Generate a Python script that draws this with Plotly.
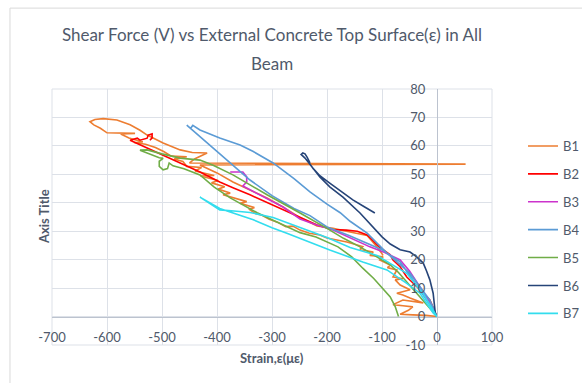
import plotly.graph_objects as go

# ---------------- data ----------------
series_names = ["B1", "B2", "B3", "B4", "B5", "B6", "B7"]

B1_x = [0, -20, -44, -67, -52, -44, -62, -80, -62, -25, -49, -62, -73, -49, -67, -76, -62, -80, -73, -90,
        -85, -104, -98, -122, -116, -140, -135, -164, -182, -200, -213, -232, -249, -262, -275, -290, -305,
        -318, -330, -342, -332, -358, -346, -371, -389, -376, -398, -386, -410, -398, -430, -405, -440, -428,
        -455, -462, -478, -455, -483, -497, -512, -530, -551, -535, -560, -575, -549, -600, -612, -624, -631,
        -622, -607, -582, -558, -540, -527, -498, -467, -445, -418, -440, -450, 52, -431,
        -400, -371, -340, -309, -280, -249, -218, -189, -158, -127, -109, -98]
B1_y = [0, 0.4, 0.6, 0.8, 2.2, 3.4, 3.8, 4.2, 5.8, 4.8, 6.5, 7.6, 8.2, 9.4, 11.1, 12.9, 13.3, 13.9, 16.4, 17.2,
        18.1, 19.9, 21, 21.5, 22.7, 23.6, 24.6, 26.2, 26.9, 27.6, 28.7, 29.3, 30.4, 31.8, 31.6, 33.2, 34.2,
        35.6, 36.2, 37.8, 38.3, 39.8, 40.4, 41.8, 42.8, 43.4, 44.8, 45.6, 47, 47.8, 49.4, 49.6, 51.2, 52.4,
        52.8, 54.5, 55.4, 56.2, 56.4, 58, 59.4, 60.6, 61.2, 61.4, 62.8, 64.2, 64.4, 64.6, 66.2, 67.4, 68.5,
        69.3, 69.6, 69.1, 67.4, 65.5, 63.8, 61, 58.6, 57.7, 57.5, 55.5, 54, 53.6, 53.3,
        50.5, 47.3, 44.5, 41.7, 38.5, 34.8, 31.8, 31, 29.7, 28.5, 24.5, 21.5]

B2_x = [0, -13, -36, -49, -55, -67, -80, -85, -104, -127, -145, -165, -189, -218, -250, -280, -310, -340,
        -370, -395, -431, -467, -500, -527, -558, -545, -540, -527, -525, -518, -518, -522]
B2_y = [0, 5.8, 10.4, 12.9, 13.9, 17.5, 19.9, 21.7, 24.3, 28.7, 30, 30.4, 30.6, 32.2, 35, 37.5, 40.2, 42.8,
        45.2, 47.3, 50.8, 54, 57, 59.3, 62, 62.7, 62, 62.7, 63.8, 64.2, 62.8, 62]

B3_x = [0, -10, -31, -50, -67, -95, -122, -155, -189, -220, -249, -280, -320, -353, -346, -346, -353, -376]
B3_y = [0, 4, 10.4, 16, 19.9, 22.5, 24.5, 27.5, 30.4, 32.3, 34.3, 38.5, 42.5, 45.9, 47.3, 49.1, 50.8, 50.8]

B4_x = [0, -7, -30, -67, -100, -127, -160, -200, -231, -260, -300, -340, -376, -405, -431, -455, -448, -444,
        -431, -395, -358, -334, -298, -260, -231, -200, -176, -158, -127, -91, -49, -13, 0]
B4_y = [0, 2.3, 9, 19.2, 23.5, 25.8, 28.5, 31.5, 35.5, 38, 42.5, 48, 54, 59, 63.2, 67.3, 66.2, 67.2,
        65.6, 62.8, 60.3, 58, 54, 48.5, 43.8, 39.5, 36.5, 33.5, 29.3, 22.3, 15.2, 5.8, 0]

B5_x = [0, -20, -45, -70, -85, -110, -140, -170, -200, -249, -309, -371, -407, -431, -467, -500, -527, -540,
        -520, -505, -498, -505, -505, -498, -490, -487, -480, -460, -431, -405, -376, -327, -300, -273, -249,
        -220, -180, -155, -135, -115, -100, -85, -76, -70]
B5_y = [0, 4.5, 10, 15.5, 18.2, 21, 24.5, 27.5, 31, 36.4, 42.8, 49.8, 53.2, 55, 55.7, 57.2, 58.6, 58.5,
        57, 55.8, 55.6, 54.6, 52.8, 51.6, 52, 54, 53, 52, 49.8, 45.5, 41.7, 36.5, 34, 31.5, 29.5,
        28, 24.5, 21, 17, 13.4, 10, 6.9, 3.5, 0]

B6_x = [0, -3, -7, -13, -19, -25, -37, -49, -67, -85, -100, -116, -140, -171, -195, -213, -227, -240, -247,
        -244, -240, -236, -231, -236, -225, -213, -195, -175, -153, -133, -113]
B6_y = [0, 1, 8.2, 12.9, 16, 18.8, 21, 22.7, 23.5, 25.5, 28, 31.5, 36.4, 42, 45.6, 49.1, 52.6, 55.7, 57,
        57.5, 57.2, 56, 54, 55, 52, 49.5, 46.9, 44, 41, 38.7, 36.4]

B7_x = [0, -7, -31, -55, -91, -135, -195, -231, -273, -300, -334, -364, -395, -431, -395, -364, -340, -298,
        -249, -200, -158, -109, -80, -55, -25, 0]
B7_y = [0, 1.3, 8.2, 11.7, 16.4, 19.2, 23.4, 26.2, 29.3, 31.2, 34, 36, 38, 42, 37.5, 37, 36.6, 34.8,
        31.3, 27.8, 24.3, 21.5, 18.1, 15.2, 8, 0]

xs = [B1_x, B2_x, B3_x, B4_x, B5_x, B6_x, B7_x]
ys = [B1_y, B2_y, B3_y, B4_y, B5_y, B6_y, B7_y]
colors = ["#ED7D31", "#FF0000", "#CC33CC", "#5B9BD5", "#70AD47", "#264478", "#33DDEE"]

x_ticks = [-700, -600, -500, -400, -300, -200, -100, 0, 100]
x_tick_labels = ["-700", "-600", "-500", "-400", "-300", "-200", "-100", "0", "100"]
y_ticks = [-10, 0, 10, 20, 30, 40, 50, 60, 70, 80]
y_tick_labels = ["-10", "0", "10", "20", "30", "40", "50", "60", "70", "80"]

title_line1 = "Shear Force (V) vs External Concrete Top Surface(ε) in All"
title_line2 = "Beam"
x_title = "Strain,ε(με)"
y_title = "Axis Title"

# ---------------- figure ----------------
FONT = "Lato, Open Sans, sans-serif"
TXT = "#505a6b"
GRID = "#dde1e8"
AXL = "#bcc3cf"

fig = go.Figure()
for i, name in enumerate(series_names):
    fig.add_trace(go.Scatter(x=xs[i], y=ys[i], mode="lines", name=name,
                             line=dict(color=colors[i], width=1.6),
                             legendgroup=name))

fig.update_layout(
    width=582, height=383,
    margin=dict(l=52, r=90, t=89, b=38, autoexpand=False),
    paper_bgcolor="white", plot_bgcolor="white",
    font=dict(family=FONT, color=TXT, size=13),
    title=dict(text=title_line1, x=272 / 582, xref="container", xanchor="center",
               y=1 - 35 / 383, yref="container", yanchor="middle",
               font=dict(family=FONT, size=17, color=TXT)),
    xaxis=dict(range=[-700, 100], tickvals=x_ticks, ticktext=x_tick_labels,
               showgrid=True, gridcolor=GRID, gridwidth=1,
               zeroline=False, showline=True, linecolor=AXL, linewidth=1,
               anchor="free", position=10 / 90,
               ticks="outside", ticklen=9, tickcolor="rgba(0,0,0,0)",
               tickfont=dict(size=13, color=TXT)),
    yaxis=dict(range=[-10, 80], tickvals=y_ticks, ticktext=y_tick_labels,
               showgrid=True, gridcolor=GRID, gridwidth=1,
               zeroline=False, showline=True, linecolor=AXL, linewidth=1,
               anchor="free", position=700 / 800,
               ticks="outside", ticklen=9, tickcolor="rgba(0,0,0,0)",
               tickfont=dict(size=13, color=TXT)),
    legend=dict(x=523 / 582, xref="container", xanchor="left",
                y=1 - 131 / 383, yref="container", yanchor="top",
                font=dict(size=13, color=TXT), traceorder="grouped",
                tracegroupgap=8, bgcolor="rgba(0,0,0,0)"),
    showlegend=True,
)

fig.add_annotation(text=title_line2, xref="paper", yref="paper",
                   x=0.5, y=(345 - 63) / 256, xanchor="center", yanchor="middle", showarrow=False,
                   font=dict(family=FONT, size=17, color=TXT))

# plot-area border made of gridline colour
fig.add_shape(type="rect", xref="paper", yref="paper", x0=0, x1=1, y0=0, y1=1,
              line=dict(color=GRID, width=1), layer="below")
# chart outer border
fig.add_shape(type="rect", xref="paper", yref="paper", x0=-0.0955, x1=1.25, y0=-0.2, y1=1.316,
              line=dict(color="#d9d9d9", width=1))

fig.add_annotation(text=x_title, xref="paper", yref="paper", x=0.5, y=(345 - 358) / 256,
                   xanchor="center", yanchor="middle", showarrow=False,
                   font=dict(family=FONT, size=13, color=TXT, weight="bold"))
fig.add_annotation(text=y_title, xref="paper", yref="paper", x=(44 - 52) / 440, y=0.5,
                   xanchor="center", yanchor="middle", showarrow=False, textangle=-90,
                   font=dict(family=FONT, size=13, color=TXT, weight="bold"))

fig.write_html("out.html", config={"displayModeBar": False},
               post_script="document.body.style.margin='0px';")
